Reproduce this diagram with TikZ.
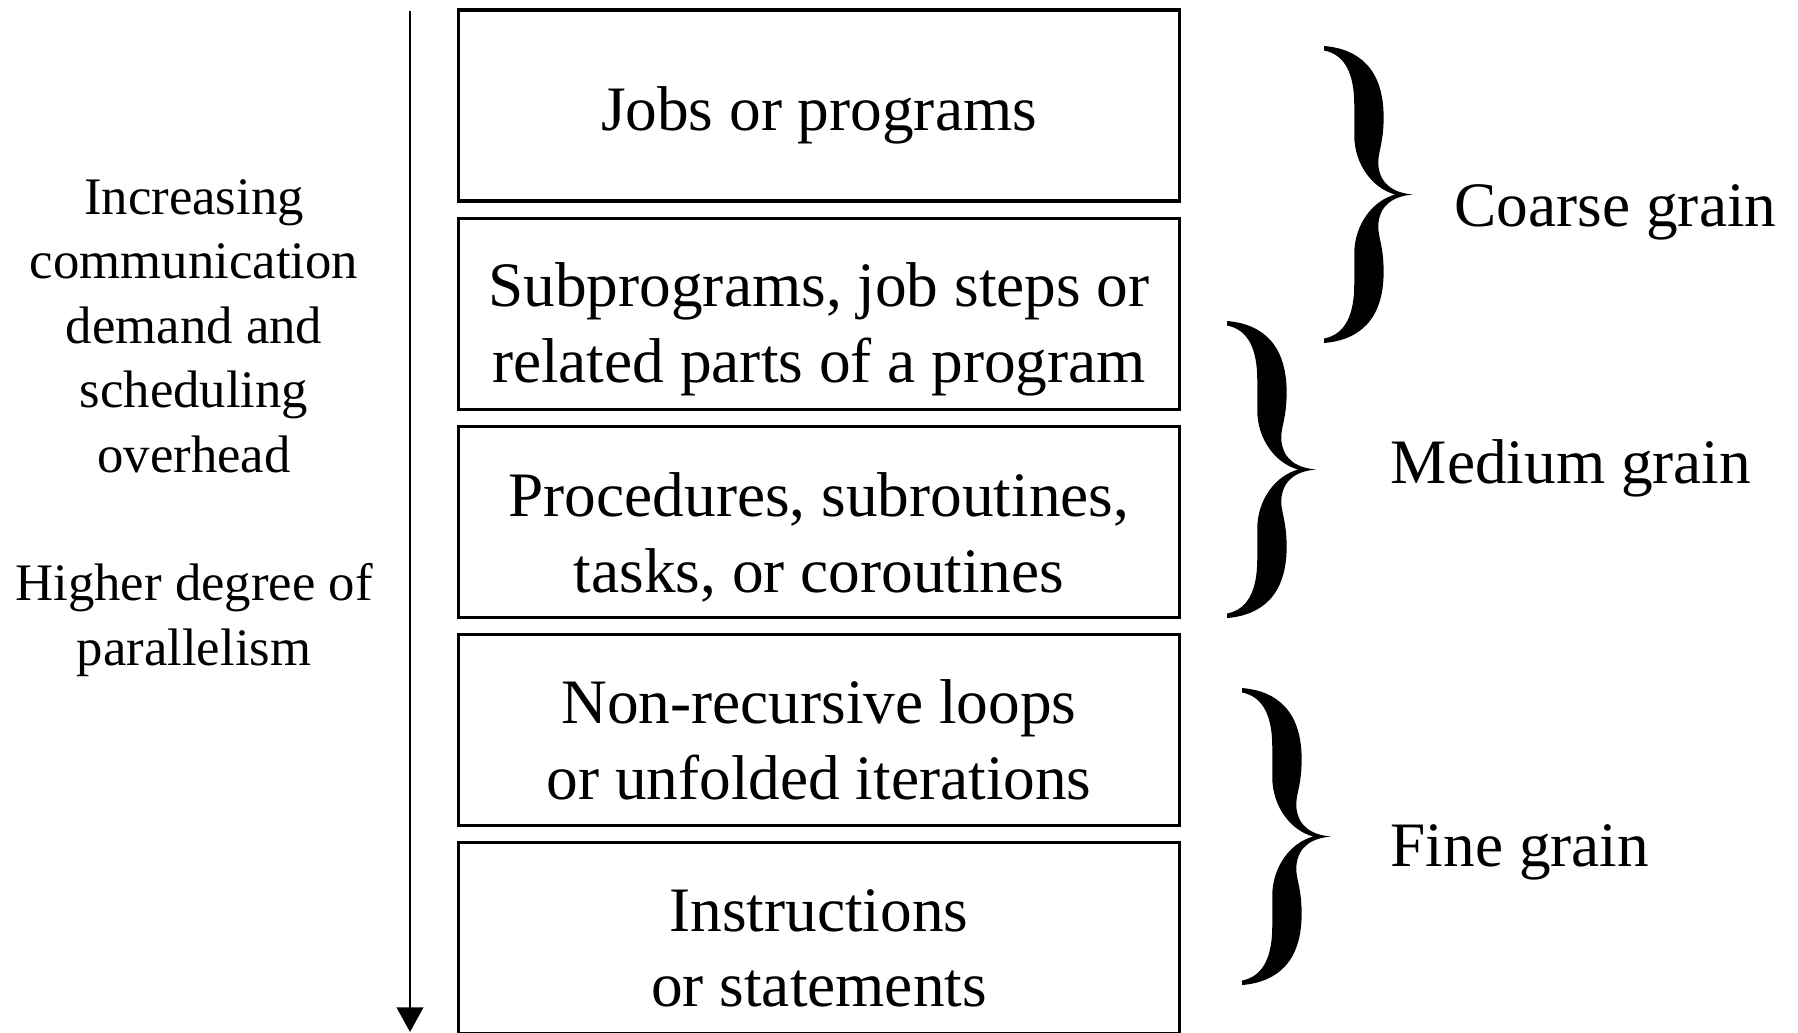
\documentclass[tikz,border=0pt]{standalone}
\usepackage{fontspec}
\setmainfont{Liberation Serif}
\usetikzlibrary{arrows.meta,positioning}

\tikzset{
  grainbox/.style={draw, line width=0.9pt, minimum width=7.2cm, minimum height=1.91cm, inner sep=0pt},
  boxtext/.style={align=center, inner sep=0pt, font=\fontsize{18}{21.6}\selectfont},
  grainlab/.style={anchor=west, inner sep=0pt, font=\fontsize{18}{21.6}\selectfont},
  grainbrace/.pic={
    \fill[xscale=89, yscale=297] (0,0)
      .. controls (0.40,0.01) and (0.67,0.08) .. (0.67,0.24)
      .. controls (0.67,0.33) and (0.60,0.36) .. (0.61,0.40)
      .. controls (0.63,0.47) and (0.80,0.495) .. (1,0.5)
      .. controls (0.80,0.505) and (0.63,0.53) .. (0.61,0.60)
      .. controls (0.60,0.64) and (0.67,0.67) .. (0.67,0.76)
      .. controls (0.67,0.92) and (0.40,0.99) .. (0,1)
      -- (0,0.985)
      .. controls (0.25,0.97) and (0.34,0.90) .. (0.34,0.80)
      -- (0.34,0.70)
      .. controls (0.34,0.60) and (0.55,0.52) .. (0.80,0.5)
      .. controls (0.55,0.48) and (0.34,0.40) .. (0.34,0.30)
      -- (0.34,0.20)
      .. controls (0.34,0.10) and (0.25,0.03) .. (0,0.015)
      -- cycle;
  }
}

\begin{document}
\begin{tikzpicture}[x=0.01cm, y=-0.01cm]
\useasboundingbox (0,0) rectangle (1798,1032);
\clip (0,0) rectangle (1798,1032);
% levels of grain
\foreach \nm/\dy/\txt [count=\i from 0] in {
    jobs/0.1/{Jobs or programs},
    subprog/0.16/{Subprograms, job steps or\\related parts of a program},
    proc/0.15/{Procedures, subroutines,\\tasks, or coroutines},
    loops/0.1/{Non-recursive loops\\or unfolded iterations},
    instr/0.1/{Instructions\\or statements}} {
  \node[grainbox] (\nm) at (819, 105.5+208.2*\i) {};
  \node[boxtext] (\nm txt) at ([yshift=-\dy cm]\nm.center) {\txt};
}
% arrow on the left
\coordinate (atop) at (410,11);
\coordinate (abot) at (410,1032);
\draw[line width=0.8pt, -{Triangle[length=7pt, width=7.5pt]}] (atop) -- (abot);
\node[align=center, inner sep=0pt, font=\fontsize{15}{18.3}\selectfont] (demand) at (194,428)
  {Increasing\\communication\\demand and\\scheduling\\overhead\\[18.3pt]Higher degree of\\parallelism};
% braces
\pic at (1324,46) {grainbrace};
\pic at (1227,321) {grainbrace};
\pic at (1242,688) {grainbrace};
\node[grainlab] (coarse) at (1454,212) {Coarse grain};
\node[grainlab] (medium) at (1390,468) {Medium grain};
\node[grainlab] (fine) at (1390,852) {Fine grain};
\end{tikzpicture}
\end{document}
